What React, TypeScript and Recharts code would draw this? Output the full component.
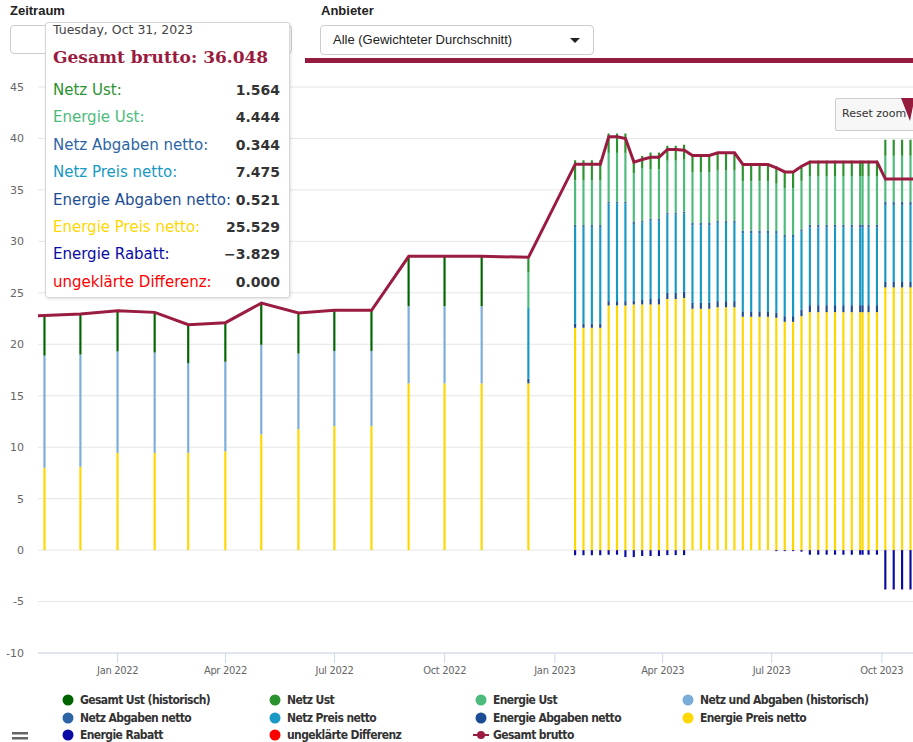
import React from 'react';
import { ComposedChart, Bar, Line, XAxis, YAxis, CartesianGrid } from 'recharts';

// monthly historic points (Oct 2021 only feeds the line coming in from the left edge)
const histDates = ['2021-10-01', '2021-11-01', '2021-12-01', '2022-01-01', '2022-02-01', '2022-03-01', '2022-04-01',
  '2022-05-01', '2022-06-01', '2022-07-01', '2022-08-01', '2022-09-01', '2022-10-01', '2022-11-01'];
const histEnergiePreis = [null, 8.0, 8.1, 9.45, 9.45, 9.45, 9.6, 11.25, 11.75, 12.05, 12.05, 16.2, 16.2, 16.2];
const histNetzAbgaben = [null, 10.9, 10.9, 9.85, 9.75, 8.7, 8.7, 8.7, 7.35, 7.3, 7.3, 7.5, 7.5, 7.5];
const histUst = [null, 3.9, 3.95, 3.95, 3.9, 3.75, 3.8, 4.05, 3.95, 3.95, 3.95, 4.85, 4.85, 4.85];
const histBrutto = [22.7, 22.8, 22.95, 23.25, 23.1, 21.9, 22.1, 24.0, 23.05, 23.3, 23.3, 28.55, 28.55, 28.55];

// detailed points from Dec 2022 on (mostly weekly)
const newDates = [
  '2022-12-10',
  '2023-01-18', '2023-01-25', '2023-02-01', '2023-02-08',
  '2023-02-15', '2023-02-22', '2023-03-01',
  '2023-03-08', '2023-03-15', '2023-03-22', '2023-03-29',
  '2023-04-05', '2023-04-12', '2023-04-19',
  '2023-04-26', '2023-05-03', '2023-05-10',
  '2023-05-17', '2023-05-24', '2023-05-31',
  '2023-06-07', '2023-06-14', '2023-06-21', '2023-06-28',
  '2023-07-05',
  '2023-07-12', '2023-07-19',
  '2023-07-26',
  '2023-08-02', '2023-08-09', '2023-08-16', '2023-08-23', '2023-08-30', '2023-09-06', '2023-09-13', '2023-09-15', '2023-09-20', '2023-09-27',
  '2023-10-04', '2023-10-11', '2023-10-18', '2023-10-25', '2023-10-31',
];
const energiePreis = [16.2,
  21.6, 21.6, 21.6, 21.6,
  23.77, 23.77, 23.77,
  23.87, 23.87, 23.87, 23.87,
  24.4, 24.4, 24.5,
  23.45, 23.45, 23.45,
  23.6, 23.6, 23.6,
  22.67, 22.67, 22.67, 22.67,
  22.57,
  22.18, 22.18,
  22.73,
  23.12, 23.12, 23.12, 23.12, 23.12, 23.12, 23.12, 23.12, 23.12, 23.12,
  25.529, 25.529, 25.529, 25.529, 25.529];
const energieAbgaben = [0.45,
  0.42, 0.42, 0.42, 0.42,
  0.42, 0.42, 0.42,
  0.39, 0.43, 0.53, 0.53,
  0.6, 0.6, 0.6,
  0.58, 0.58, 0.58,
  0.59, 0.59, 0.59,
  0.53, 0.53, 0.53, 0.53,
  0.53,
  0.55, 0.55,
  0.65,
  0.68, 0.68, 0.68, 0.68, 0.68, 0.68, 0.68, 0.68, 0.68, 0.68,
  0.521, 0.521, 0.521, 0.521, 0.521];
const netzPreis = [6.87,
  9.36, 9.36, 9.36, 9.36,
  9.48, 9.48, 9.48,
  7.43, 7.52, 7.6, 7.6,
  7.6, 7.6, 7.6,
  7.53, 7.53, 7.53,
  7.61, 7.61, 7.61,
  7.6, 7.6, 7.6, 7.6,
  7.7,
  7.7, 7.7,
  7.56,
  7.54, 7.54, 7.54, 7.54, 7.54, 7.54, 7.54, 7.54, 7.54, 7.54,
  7.475, 7.475, 7.475, 7.475, 7.475];
const netzAbgaben = [0,
  0.2, 0.2, 0.2, 0.2,
  0.19, 0.19, 0.19,
  0.2, 0.2, 0.2, 0.2,
  0.2, 0.2, 0.2,
  0.23, 0.23, 0.23,
  0.2, 0.2, 0.2,
  0.24, 0.24, 0.24, 0.24,
  0.2,
  0.19, 0.19,
  0.23,
  0.26, 0.26, 0.26, 0.26, 0.26, 0.26, 0.26, 0.26, 0.26, 0.26,
  0.344, 0.344, 0.344, 0.344, 0.344];
const energieUst = [3.45,
  4.34, 4.34, 4.34, 4.34,
  4.74, 4.74, 4.74,
  4.71, 5.08, 4.81, 4.81,
  5.04, 5.04, 5.04,
  4.93, 4.93, 4.93,
  4.88, 4.88, 4.88,
  4.8, 4.8, 4.8, 4.8,
  4.6,
  4.55, 4.55,
  4.71,
  4.74, 4.74, 4.74, 4.74, 4.74, 4.74, 4.74, 4.74, 4.74, 4.74,
  4.444, 4.444, 4.444, 4.444, 4.444];
const netzUst = [1.38,
  1.96, 1.96, 1.96, 1.96,
  1.88, 1.88, 1.88,
  1.34, 1.2, 1.62, 1.62,
  1.45, 1.45, 1.45,
  1.62, 1.62, 1.62,
  1.72, 1.72, 1.72,
  1.61, 1.61, 1.61, 1.61,
  1.7,
  1.6, 1.6,
  1.46,
  1.5, 1.5, 1.5, 1.5, 1.5, 1.5, 1.5, 1.5, 1.5, 1.5,
  1.564, 1.564, 1.564, 1.564, 1.564];
const rabatt = [0,
  -0.5, -0.5, -0.5, -0.5,
  -0.45, -0.45, -0.68,
  -0.68, -0.58, -0.58, -0.58,
  -0.49, -0.49, -0.49,
  0, 0, 0,
  0, 0, 0,
  0, 0, 0, 0,
  -0.1,
  -0.1, -0.1,
  -0.15,
  -0.45, -0.45, -0.45, -0.45, -0.45, -0.45, -0.45, -0.45, -0.45, -0.45,
  -3.829, -3.829, -3.829, -3.829, -3.829];
const differenz = [0,
  0, 0, 0, 0,
  0, 0, 0,
  0, 0, 0, 0,
  0, 0, 0,
  0, 0, 0,
  0, 0, 0,
  0, 0, 0, 0,
  0,
  0, 0,
  0,
  0, 0, 0, 0, 0, 0, 0, 0, 0, 0,
  0, 0, 0, 0, 0];
const brutto = [28.45,
  37.5, 37.5, 37.5, 37.5,
  40.16, 40.16, 40.0,
  37.7, 37.95, 38.18, 38.18,
  38.93, 38.93, 38.86,
  38.34, 38.34, 38.34,
  38.6, 38.6, 38.6,
  37.47, 37.47, 37.47, 37.47,
  37.14,
  36.75, 36.75,
  37.3,
  37.7, 37.7, 37.7, 37.7, 37.7, 37.7, 37.7, 37.7, 37.7, 37.7,
  36.048, 36.048, 36.048, 36.048, 36.048];

const quarterTicks = ['2022-01-01', '2022-04-01', '2022-07-01', '2022-10-01', '2023-01-01', '2023-04-01', '2023-07-01', '2023-10-01'];
const quarterLabels = ['Jan 2022', 'Apr 2022', 'Jul 2022', 'Oct 2022', 'Jan 2023', 'Apr 2023', 'Jul 2023', 'Oct 2023'];
const yTicks = [-10, -5, 0, 5, 10, 15, 20, 25, 30, 35, 40, 45];

const SERIES = [
  { key: 'ustHist', name: 'Gesamt Ust (historisch)', color: '#006400' },
  { key: 'netzUst', name: 'Netz Ust', color: '#2a922e' },
  { key: 'energieUst', name: 'Energie Ust', color: '#4dbb7c' },
  { key: 'netzHist', name: 'Netz und Abgaben (historisch)', color: '#7aacda' },
  { key: 'netzAbgaben', name: 'Netz Abgaben netto', color: '#2d65a5' },
  { key: 'netzPreis', name: 'Netz Preis netto', color: '#1799c4' },
  { key: 'energieAbgaben', name: 'Energie Abgaben netto', color: '#1c4d94' },
  { key: 'energiePreis', name: 'Energie Preis netto', color: '#ffd700' },
  { key: 'rabatt', name: 'Energie Rabatt', color: '#0a0aa5' },
  { key: 'differenz', name: 'ungeklärte Differenz', color: '#ff0000' },
];
const BRUTTO_COLOR = '#9a1c41';

const toTime = (d: string) => Date.parse(d + 'T00:00:00Z');

const rows = [
  ...histDates.map((d, i) => ({
    t: toTime(d),
    energiePreis: histEnergiePreis[i] ?? 0,
    netzHist: histNetzAbgaben[i] ?? 0,
    ustHist: histUst[i] ?? 0,
    energieAbgaben: 0, netzPreis: 0, netzAbgaben: 0, energieUst: 0, netzUst: 0, rabatt: 0, differenz: 0,
    brutto: histBrutto[i],
  })),
  ...newDates.map((d, i) => ({
    t: toTime(d),
    energiePreis: energiePreis[i],
    netzHist: 0,
    ustHist: 0,
    energieAbgaben: energieAbgaben[i],
    netzPreis: netzPreis[i],
    netzAbgaben: netzAbgaben[i],
    energieUst: energieUst[i],
    netzUst: netzUst[i],
    rabatt: rabatt[i],
    differenz: differenz[i],
    brutto: brutto[i],
  })),
];

const X_DOMAIN = [Date.UTC(2021, 9, 26, 12), Date.UTC(2023, 9, 27)];
const tickTimes = quarterTicks.map(toTime);
const fmtTick = (v: number) => quarterLabels[tickTimes.indexOf(v)] ?? '';

const NARROW = "'Liberation Sans Narrow', 'DejaVu Sans Condensed', 'Liberation Sans', sans-serif";
const SANS = "'DejaVu Sans', 'Liberation Sans', sans-serif";

// the hovered point shown in the tooltip
const hover = rows[rows.length - 1];
const tooltipRows = ['netzUst', 'energieUst', 'netzAbgaben', 'netzPreis', 'energieAbgaben', 'energiePreis', 'rabatt', 'differenz']
  .map((k) => SERIES.find((s) => s.key === k)!);

const fmtVal = (v: number) => v.toFixed(3).replace('-', '\u2212');

const legendCols = [68, 275, 481, 688];
const legendRows = [700, 718, 735];

export default function App() {
  const stackOrder = [...SERIES].reverse();
  return (
    <div style={{ position: 'absolute', left: 0, top: 0, width: 913, height: 742, overflow: 'hidden', background: '#fff', fontFamily: SANS }}>
      {/* filter controls */}
      <div style={{ position: 'absolute', left: 10, top: 3, font: "bold 13px 'Liberation Sans', Arial, sans-serif", color: '#222' }}>Zeitraum</div>
      <div style={{ position: 'absolute', left: 10, top: 25, width: 280, height: 27, border: '1px solid #ccc', borderRadius: 4 }} />
      <div style={{ position: 'absolute', left: 321, top: 3, font: "bold 13px 'Liberation Sans', Arial, sans-serif", color: '#222' }}>Anbieter</div>
      <div style={{ position: 'absolute', left: 320, top: 25, width: 274, height: 30, border: '1px solid #ccc', borderRadius: 4, boxSizing: 'border-box' }}>
        <span style={{ position: 'absolute', left: 12, top: 6, font: "13px 'Liberation Sans', Arial, sans-serif", color: '#222' }}>Alle (Gewichteter Durchschnitt)</span>
        <svg style={{ position: 'absolute', left: 249, top: 12 }} width={10} height={6}>
          <polygon points="0,0 10,0 5,5" fill="#222" />
        </svg>
      </div>
      <div style={{ position: 'absolute', left: 305, top: 58, width: 620, height: 5, background: '#951b3e' }} />

      <div style={{ position: 'absolute', left: 0, top: 0 }}>
        <ComposedChart
          width={913}
          height={683}
          data={rows}
          stackOffset="sign"
          margin={{ top: 87, right: 0, bottom: 0, left: 0 }}
          style={{ fontFamily: NARROW }}
        >
          <CartesianGrid vertical={false} stroke="#e6e6e6" />
          <XAxis
            dataKey="t"
            type="number"
            domain={X_DOMAIN}
            allowDataOverflow
            ticks={tickTimes}
            tickFormatter={fmtTick}
            height={30}
            tickSize={10}
            tickMargin={3}
            tick={{ fill: '#666', fontSize: 11, fontFamily: NARROW, letterSpacing: -0.3 }}
            stroke="#ccd6eb"
          />
          <YAxis
            type="number"
            domain={[-10, 45]}
            ticks={yTicks}
            width={38}
            axisLine={false}
            tickLine={false}
            tickMargin={8}
            tick={{ fill: '#666', fontSize: 11, fontFamily: SANS }}
          />
          {stackOrder.map((s) => (
            <Bar key={s.key} dataKey={s.key} stackId="a" fill={s.color} barSize={3} isAnimationActive={false} />
          ))}
          <Line
            dataKey="brutto"
            type="linear"
            stroke={BRUTTO_COLOR}
            strokeWidth={3}
            dot={false}
            isAnimationActive={false}
          />
        </ComposedChart>
      </div>

      {/* reset zoom button */}
      <div style={{ position: 'absolute', left: 835, top: 98, width: 84, height: 33, background: '#f7f7f7', border: '1px solid #ccc', borderRadius: 2, boxSizing: 'border-box' }}>
        <span style={{ position: 'absolute', left: 6, top: 8, fontSize: 11, color: '#333' }}>Reset zoom</span>
      </div>
      <svg style={{ position: 'absolute', left: 0, top: 0 }} width={913} height={742} pointerEvents="none">
        <polygon points="901,98 913,98 913,106 910,121" fill="#951b3e" />
        <rect x={12} y={732} width={16} height={2.5} fill="#666" />
        <rect x={12} y={737} width={16} height={2.5} fill="#666" />
      </svg>

      {/* legend */}
      {SERIES.concat([{ key: 'brutto', name: 'Gesamt brutto', color: BRUTTO_COLOR }]).map((s, i) => {
        const cx = legendCols[i % 4];
        const cy = legendRows[Math.floor(i / 4)];
        const isLine = s.key === 'brutto';
        return (
          <div key={s.key} style={{ position: 'absolute', left: cx - 8, top: cy - 8, height: 16, display: 'flex', alignItems: 'center' }}>
            <svg width={16} height={16}>
              {isLine ? (
                <g>
                  <line x1={0} y1={8} x2={16} y2={8} stroke={s.color} strokeWidth={2} />
                  <circle cx={8} cy={8} r={4} fill={s.color} />
                </g>
              ) : (
                <circle cx={8} cy={8} r={5.5} fill={s.color} />
              )}
            </svg>
            <span style={{ marginLeft: 4, font: `bold 12px ${NARROW}`, letterSpacing: -0.6, color: '#333', whiteSpace: 'nowrap' }}>{s.name}</span>
          </div>
        );
      })}

      {/* tooltip of the hovered point */}
      <div style={{ position: 'absolute', left: 45, top: 22, width: 245, height: 276, background: 'rgba(255,255,255,0.97)', border: '1px solid #d6d6d6', borderRadius: 3, boxShadow: '1px 1px 3px rgba(0,0,0,0.12)', boxSizing: 'border-box' }}>
        <div style={{ position: 'absolute', left: 7, top: -1, fontSize: 12.5, color: '#444' }}>Tuesday, Oct 31, 2023</div>
        <div style={{ position: 'absolute', left: 7, top: 24, font: "bold 17px 'DejaVu Serif', serif", color: '#9b1b40', whiteSpace: 'nowrap' }}>
          Gesamt brutto: {hover.brutto.toFixed(3)}
        </div>
        {tooltipRows.map((s, i) => (
          <div key={s.key} style={{ position: 'absolute', left: 7, right: 9, top: 57 + i * 27.4, height: 20, display: 'flex', justifyContent: 'space-between', alignItems: 'center', whiteSpace: 'nowrap' }}>
            <span style={{ color: s.color, fontSize: 15 }}>{s.name}:</span>
            <span style={{ fontWeight: 'bold', color: '#333', fontSize: 14 }}>{fmtVal((hover as any)[s.key])}</span>
          </div>
        ))}
      </div>
    </div>
  );
}
